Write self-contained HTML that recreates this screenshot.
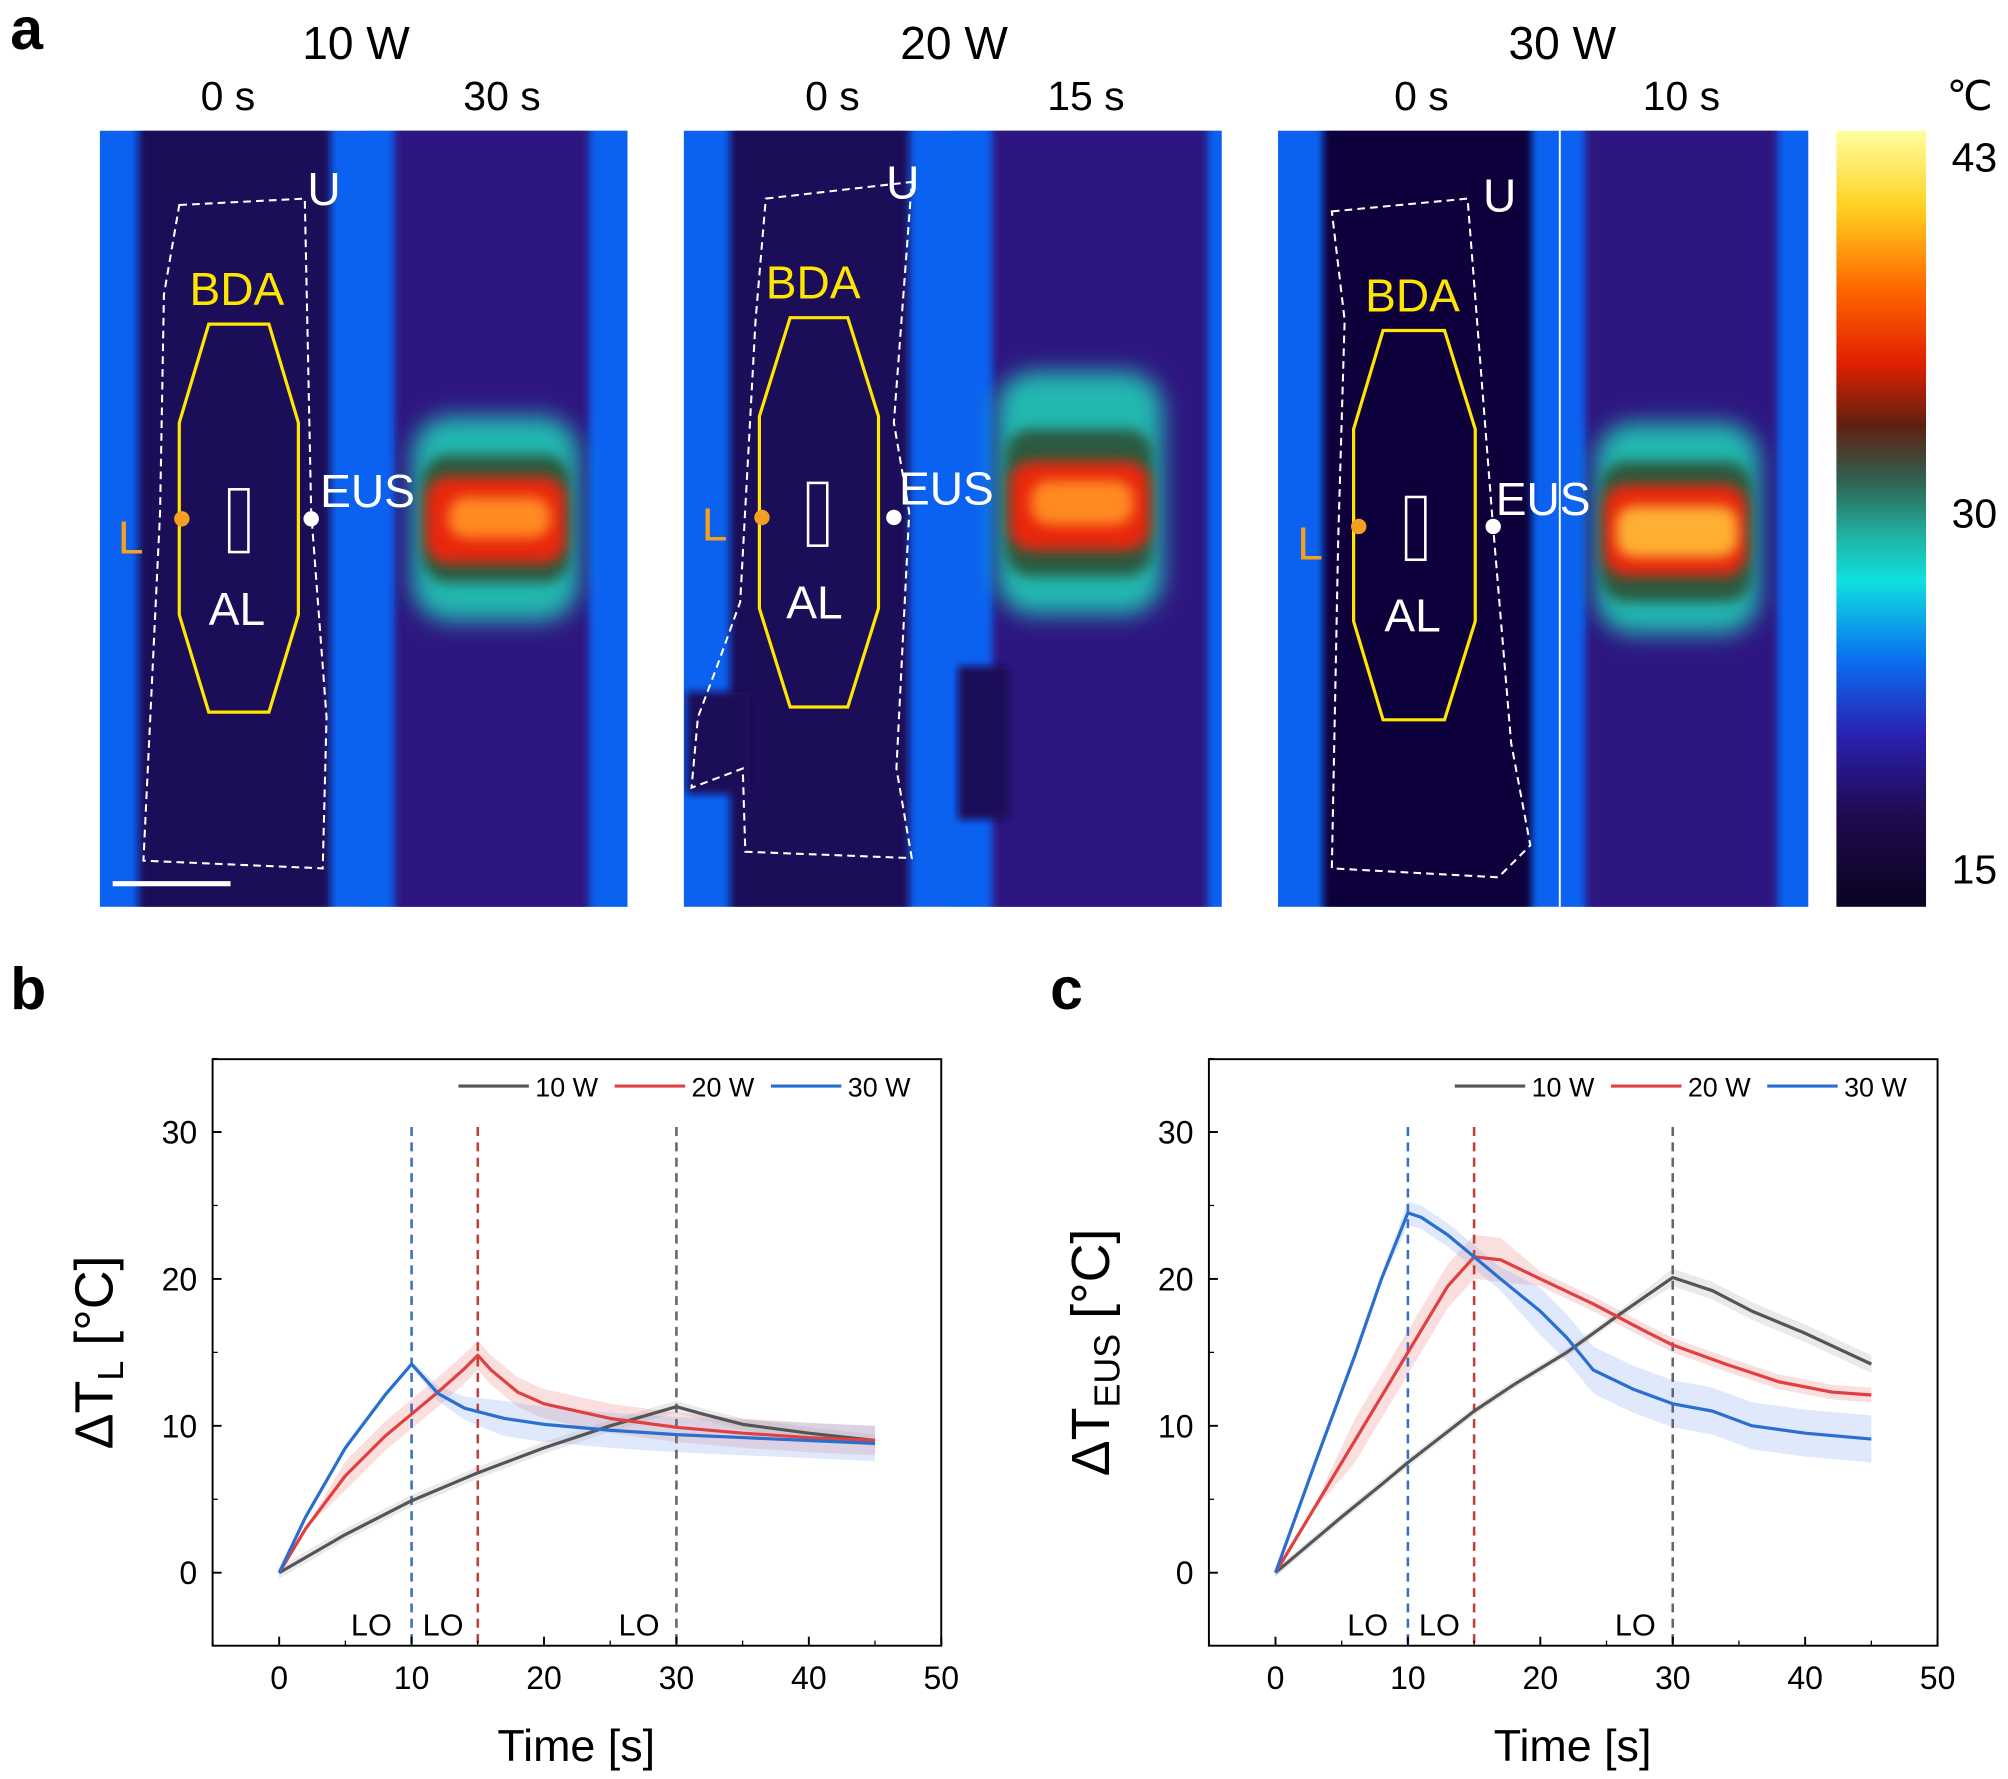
<!DOCTYPE html>
<html><head><meta charset="utf-8"><style>
html,body{margin:0;padding:0;background:#fff;}
svg{display:block;}
text{font-family:"Liberation Sans",sans-serif;}
</style></head><body>
<svg id="s" width="2008" height="1779" viewBox="0 0 1568 1389" xmlns="http://www.w3.org/2000/svg">
<defs>
<filter id="bl" x="-30%" y="-30%" width="160%" height="160%"><feGaussianBlur stdDeviation="9"/></filter>
<filter id="bl3" x="-30%" y="-30%" width="160%" height="160%"><feGaussianBlur stdDeviation="5"/></filter>
<filter id="bl2" x="-20%" y="-20%" width="140%" height="140%"><feGaussianBlur stdDeviation="3"/></filter>
<linearGradient id="cb" x1="0" y1="0" x2="0" y2="1">
<stop offset="0" stop-color="#ffffa0"/><stop offset="0.1" stop-color="#ffd020"/><stop offset="0.2" stop-color="#ff6a00"/>
<stop offset="0.3" stop-color="#e02000"/><stop offset="0.38" stop-color="#602010"/><stop offset="0.45" stop-color="#306050"/>
<stop offset="0.52" stop-color="#20b0a0"/><stop offset="0.58" stop-color="#10e0e0"/><stop offset="0.68" stop-color="#0a70f0"/>
<stop offset="0.78" stop-color="#2a20b0"/><stop offset="0.88" stop-color="#200a50"/><stop offset="1" stop-color="#0a0320"/>
</linearGradient>
<clipPath id="c1"><rect x="285" y="102" width="205" height="606"/></clipPath>
<clipPath id="c2"><rect x="744" y="102" width="210" height="606"/></clipPath>
<clipPath id="c3"><rect x="1218" y="102" width="194" height="606"/></clipPath>
<clipPath id="p1"><rect x="78" y="102" width="207" height="606"/></clipPath>
<clipPath id="p2"><rect x="534" y="102" width="210" height="606"/></clipPath>
<clipPath id="p3"><rect x="998" y="102" width="220" height="606"/></clipPath>
</defs>
<text x="8" y="38" font-size="46" font-weight="bold">a</text>
<text x="278" y="46" font-size="36" text-anchor="middle">10 W</text>
<text x="745" y="46" font-size="36" text-anchor="middle">20 W</text>
<text x="1220" y="46" font-size="36" text-anchor="middle">30 W</text>
<g font-size="32" text-anchor="middle">
<text x="178" y="86">0 s</text><text x="392" y="86">30 s</text>
<text x="650" y="86">0 s</text><text x="848" y="86">15 s</text>
<text x="1110" y="86">0 s</text><text x="1313" y="86">10 s</text>
<text x="1538" y="86">℃</text>
</g>
<!-- panel 1 -->
<rect x="78" y="102" width="412" height="606" fill="#0c62f0"/>
<g clip-path="url(#p1)"><rect x="108" y="90" width="150" height="630" fill="#1e0c58" filter="url(#bl2)"/></g>
<g clip-path="url(#c1)">
<rect x="285" y="102" width="205" height="606" fill="#0c62f0"/>
<rect x="308" y="90" width="152" height="630" fill="#2e1280" filter="url(#bl2)"/>
<rect x="322" y="325" width="130" height="160" rx="30" fill="#20b8b0" filter="url(#bl)"/>
<rect x="330" y="355" width="115" height="100" rx="20" fill="#2a5a40" filter="url(#bl3)"/>
<rect x="332" y="372" width="110" height="68" rx="18" fill="#e82810" filter="url(#bl3)"/>
<rect x="350" y="388" width="80" height="32" rx="14" fill="#ff8a20" filter="url(#bl3)"/>
</g>
<!-- panel 2 -->
<rect x="534" y="102" width="420" height="606" fill="#0c62f0"/>
<g clip-path="url(#p2)"><rect x="570" y="90" width="140" height="630" fill="#1e0c58" filter="url(#bl2)"/>
<rect x="536" y="540" width="50" height="80" fill="#1e0c58" filter="url(#bl2)"/></g>
<g clip-path="url(#c2)">
<rect x="744" y="102" width="210" height="606" fill="#0c62f0"/>
<rect x="775" y="90" width="168" height="630" fill="#2e1280" filter="url(#bl2)"/>
<rect x="748" y="520" width="40" height="120" fill="#1e0c58" filter="url(#bl2)"/>
<rect x="778" y="290" width="130" height="190" rx="30" fill="#20b8b0" filter="url(#bl)"/>
<rect x="785" y="335" width="115" height="115" rx="20" fill="#2a5a40" filter="url(#bl3)"/>
<rect x="788" y="360" width="110" height="70" rx="18" fill="#e82810" filter="url(#bl3)"/>
<rect x="805" y="375" width="80" height="35" rx="14" fill="#ff8a20" filter="url(#bl3)"/>
</g>
<!-- panel 3 -->
<rect x="998" y="102" width="414" height="606" fill="#0c62f0"/>
<g clip-path="url(#p3)"><rect x="1033" y="90" width="163" height="630" fill="#10053a" filter="url(#bl2)"/></g>
<g clip-path="url(#c3)">
<rect x="1218" y="102" width="194" height="606" fill="#0c62f0"/>
<rect x="1238" y="90" width="150" height="630" fill="#2e1280" filter="url(#bl2)"/>
<rect x="1246" y="330" width="128" height="165" rx="30" fill="#20b8b0" filter="url(#bl)"/>
<rect x="1250" y="360" width="118" height="110" rx="20" fill="#2a5a40" filter="url(#bl3)"/>
<rect x="1252" y="378" width="112" height="72" rx="18" fill="#e82810" filter="url(#bl3)"/>
<rect x="1262" y="395" width="95" height="40" rx="14" fill="#ffb030" filter="url(#bl3)"/>
</g>
<line x1="1218" y1="102" x2="1218" y2="708" stroke="#fff" stroke-width="1.5"/>
<!-- annotations -->
<g fill="none" stroke="#fff" stroke-width="1.6" stroke-dasharray="6,4">
<path d="M140,160 L238,155 L243,400 L255,560 L252,678 L112,672 L125,400 L128,230 Z"/>
<path d="M598,155 L712,142 L698,330 L710,400 L700,600 L712,670 L582,665 L580,600 L540,615 L545,560 L560,520 L578,470 L590,250 Z"/>
<path d="M1040,165 L1146,155 L1165,400 L1180,580 L1195,660 L1170,685 L1040,678 L1045,420 L1050,250 Z"/>
</g>
<g fill="none" stroke="#ffe600" stroke-width="2.5">
<polygon points="163,253 210,253 233,330 233,480 210,556 163,556 140,480 140,330"/>
<polygon points="617,248 662,248 686,325 686,475 662,552 617,552 593,475 593,325"/>
<polygon points="1080,258 1128,258 1152,335 1152,485 1128,562 1080,562 1057,485 1057,335"/>
</g>
<g fill="none" stroke="#fff" stroke-width="2"><rect x="179" y="382" width="15" height="49"/><rect x="631" y="377" width="15" height="49"/><rect x="1098" y="388" width="15" height="49"/></g>
<circle cx="142" cy="405" r="6" fill="#f5a020"/><circle cx="243" cy="405" r="6" fill="#fff"/>
<circle cx="595" cy="404" r="6" fill="#f5a020"/><circle cx="698" cy="404" r="6" fill="#fff"/>
<circle cx="1061" cy="411" r="6" fill="#f5a020"/><circle cx="1166" cy="411" r="6" fill="#fff"/>
<g font-size="36">
<text x="240" y="160" fill="#fff">U</text><text x="692" y="155" fill="#fff">U</text><text x="1158" y="165" fill="#fff">U</text>
<text x="148" y="238" fill="#ffe600">BDA</text><text x="598" y="233" fill="#ffe600">BDA</text><text x="1066" y="243" fill="#ffe600">BDA</text>
<text x="250" y="396" fill="#fff">EUS</text><text x="702" y="394" fill="#fff">EUS</text><text x="1168" y="402" fill="#fff">EUS</text>
<text x="92" y="432" fill="#f5a020">L</text><text x="548" y="422" fill="#f5a020">L</text><text x="1013" y="437" fill="#f5a020">L</text>
<text x="163" y="488" fill="#fff">AL</text><text x="614" y="483" fill="#fff">AL</text><text x="1081" y="493" fill="#fff">AL</text>
</g>
<line x1="88" y1="690" x2="180" y2="690" stroke="#fff" stroke-width="4"/>
<rect x="1434" y="102" width="70" height="606" fill="url(#cb)"/>
<g font-size="32"><text x="1524" y="134">43</text><text x="1524" y="412">30</text><text x="1524" y="690">15</text></g>

<text x="8" y="788" font-size="46" font-weight="bold">b</text>
<text x="820" y="788" font-size="46" font-weight="bold">c</text>
<g id="plots"></g>
</svg>
<script>
const NS="http://www.w3.org/2000/svg";
const g=document.getElementById("plots");
function el(t,a,txt){const e=document.createElementNS(NS,t);for(const k in a)e.setAttribute(k,a[k]);if(txt!==undefined)e.textContent=txt;g.appendChild(e);return e;}
function plot(x0,ylab,sub,data,bands,lo,lox){
 const X=t=>x0+52+10.34*t, Y=v=>1228-11.47*v;
 bands.forEach(([d,w,c])=>{let up=d.map(p=>X(p[0])+","+Y(p[1]+w(p[0]))),dn=d.slice().reverse().map(p=>X(p[0])+","+Y(p[1]-w(p[0])));el("polygon",{points:up.concat(dn).join(" "),fill:c,opacity:0.25});});
 [[10,"#3a6fc4"],[15,"#c0403a"],[30,"#666"]].forEach(([t,c])=>el("line",{x1:X(t),x2:X(t),y1:880,y2:1285,stroke:c,"stroke-width":2,"stroke-dasharray":"7,5"}));
 data.forEach(([d,c])=>el("polyline",{points:d.map(p=>X(p[0])+","+Y(p[1])).join(" "),fill:"none",stroke:c,"stroke-width":2.5,"stroke-linejoin":"round"}));
 el("rect",{x:x0,y:827,width:569,height:458,fill:"none",stroke:"#000","stroke-width":1.5});
 for(let t=0;t<=50;t+=10){el("line",{x1:X(t),x2:X(t),y1:1285,y2:1278,stroke:"#000","stroke-width":1.5});el("text",{x:X(t),y:1319,"font-size":25,"text-anchor":"middle"},t);}
 for(let t=-5;t<=45;t+=10)el("line",{x1:X(t),x2:X(t),y1:1285,y2:1281,stroke:"#000"});
 for(let v=0;v<=30;v+=10){el("line",{x1:x0,x2:x0+7,y1:Y(v),y2:Y(v),stroke:"#000","stroke-width":1.5});el("text",{x:x0-12,y:Y(v)+9,"font-size":25,"text-anchor":"end"},v);}
 for(let v=5;v<=35;v+=10)el("line",{x1:x0,x2:x0+4,y1:Y(v),y2:Y(v),stroke:"#000"});
 lox.forEach(x=>el("text",{x:x,y:1277,"font-size":24,"text-anchor":"middle"},"LO"));
 el("text",{x:x0+284,y:1375,"font-size":35,"text-anchor":"middle"},"Time [s]");
 const lg=[["10 W","#555"],["20 W","#e04040"],["30 W","#2a6fd0"]];
 lg.forEach(([l,c],i)=>{const lx=x0+192+i*122;el("line",{x1:lx,x2:lx+55,y1:848,y2:848,stroke:c,"stroke-width":2.5});el("text",{x:lx+60,y:856,"font-size":21},l);});
 const t=el("text",{transform:`translate(${x0-78},1056) rotate(-90)`,"font-size":42,"text-anchor":"middle"});
 t.textContent="ΔT";const ts=document.createElementNS(NS,"tspan");ts.setAttribute("font-size","28");ts.setAttribute("dy","8");ts.textContent=sub;t.appendChild(ts);
 const t2=document.createElementNS(NS,"tspan");t2.setAttribute("dy","-8");t2.textContent=" [°C]";t.appendChild(t2);
}
const bG=[[0,0],[5,2.6],[10,4.9],[15,6.8],[20,8.5],[25,10],[30,11.3],[32,10.8],[35,10.1],[40,9.5],[45,9.0]];
const bR=[[0,0],[2,3],[5,6.6],[8,9.3],[10,10.8],[12,12.3],[14,13.9],[15,14.8],[16,13.8],[18,12.3],[20,11.5],[25,10.5],[30,9.9],[35,9.5],[40,9.2],[45,9.0]];
const bB=[[0,0],[2,3.8],[5,8.5],[8,12.1],[10,14.2],[11,13.2],[12,12.2],[14,11.2],[17,10.5],[20,10.1],[25,9.7],[30,9.4],[35,9.2],[40,9.0],[45,8.8]];
plot(166,"","L",[[bG,"#555"],[bR,"#e04040"],[bB,"#2a6fd0"]],
 [[bR,t=>t<5?0:1,"#f08080"],[bB,t=>t<10?0.2:Math.min(1.2,0.2+(t-10)*0.15),"#80a8f0"],[bG,t=>0.4,"#aaa"]],0,[290,346,499]);
const cG=[[0,0],[5,3.8],[8,6],[10,7.5],[15,11],[18,12.8],[22,15],[26,17.6],[30,20.1],[33,19.2],[36,17.8],[40,16.3],[45,14.2]];
const cR=[[0,0],[3,4.5],[6,9],[10,15],[13,19.5],[15,21.5],[17,21.3],[20,20],[24,18.3],[28,16.4],[30,15.5],[34,14.2],[38,13],[42,12.3],[45,12.1]];
const cB=[[0,0],[3,7.5],[6,14.8],[8,20],[10,24.5],[11,24.2],[13,23],[15,21.5],[17,20],[20,17.8],[22,16],[24,13.8],[27,12.5],[30,11.5],[33,11],[36,10],[40,9.5],[45,9.1]];
plot(944,"","EUS",[[cG,"#555"],[cR,"#e04040"],[cB,"#2a6fd0"]],
 [[cR,t=>t<5?0.2:(t<20?1.5:0.5),"#f08080"],[cB,t=>t<10?0.3:(t<20?0.8:1.6),"#80a8f0"],[cG,t=>t<30?0.3:0.6,"#aaa"]],0,[1068,1124,1277]);
</script>
</body></html>
